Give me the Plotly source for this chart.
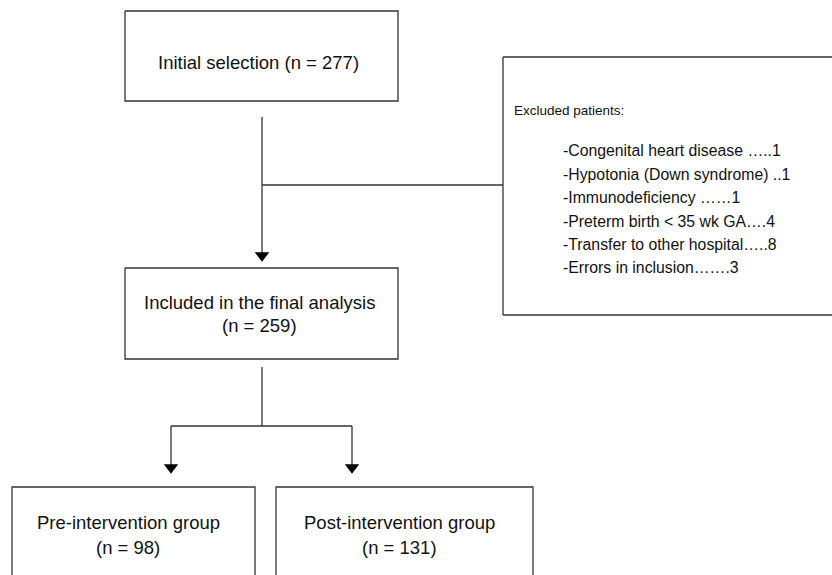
import plotly.graph_objects as go

# ---- data ----
initial_label = "Initial selection"
initial_n = 277
included_label = "Included in the final analysis"
included_n = 259
group_labels = ["Pre-intervention group", "Post-intervention group"]
group_n = [98, 131]
excluded_title = "Excluded patients:"
excluded_reasons = [
    "-Congenital heart disease \u2026..1",
    "-Hypotonia (Down syndrome) ..1",
    "-Immunodeficiency \u2026\u20261",
    "-Preterm birth < 35 wk GA\u2026.4",
    "-Transfer to other hospital\u2026..8",
    "-Errors in inclusion\u2026\u2026.3",
]

LINE = "#333333"
FONT = "Liberation Sans, Arial, Helvetica, sans-serif"

fig = go.Figure()

def seg(xs, ys):
    fig.add_trace(go.Scatter(x=xs, y=ys, mode="lines",
                             line=dict(color=LINE, width=1.3),
                             hoverinfo="skip", showlegend=False))

def rect(x0, y0, x1, y1):
    seg([x0, x1, x1, x0, x0], [y0, y0, y1, y1, y0])

# boxes
rect(125, 11, 398, 101)
# excluded box, runs off the right edge (drawn as separate open segments)
seg([503, 840], [57, 57])
seg([503, 840], [315, 315])
seg([503, 503], [57, 315])
rect(125, 268, 398, 359)
seg([12, 12, 255, 255], [580, 487, 487, 580])
seg([276, 276, 533, 533], [580, 487, 487, 580])

# connectors
seg([262, 262], [117, 253])
seg([262, 503], [185, 185])
seg([262, 262], [367, 426])
seg([171, 352], [426, 426])
seg([171, 171], [426, 466])
seg([352, 352], [426, 466])

# arrowheads
fig.add_trace(go.Scatter(x=[262, 171, 352], y=[255.5, 467.5, 467.5], mode="markers",
                         marker=dict(symbol="triangle-down", size=12.5, color="#000000",
                                     line=dict(width=0)),
                         hoverinfo="skip", showlegend=False))

# texts
def txt(x, y, s, size=18.5, anchor="center"):
    fig.add_annotation(x=x, y=y, text=s, showarrow=False, xref="x", yref="y",
                       xanchor=anchor, yanchor="middle",
                       font=dict(family=FONT, size=size, color="#111111"))

txt(258, 62, f"{initial_label} (n = {initial_n})")
txt(259, 302, included_label)
txt(259, 325, f"(n = {included_n})")
txt(128, 522, group_labels[0])
txt(399, 522, group_labels[1])
txt(128, 547, f"(n = {group_n[0]})")
txt(399, 547, f"(n = {group_n[1]})")

txt(512, 110, excluded_title, size=13.5, anchor="left")
ys = [150, 174, 197, 221, 244, 267]
for y, r in zip(ys, excluded_reasons):
    txt(561, y, r, size=15.8, anchor="left")

fig.update_layout(
    width=832, height=575,
    margin=dict(l=0, r=0, t=0, b=0),
    paper_bgcolor="white", plot_bgcolor="white",
    xaxis=dict(range=[0, 832], visible=False, fixedrange=True),
    yaxis=dict(range=[575, 0], visible=False, fixedrange=True),
    showlegend=False,
)

# remove the default page margin so the figure fills the window exactly
fig.write_html("out.html",
               config={"displayModeBar": False, "staticPlot": True},
               post_script="document.body.style.margin='0';"
                           "document.body.style.padding='0';"
                           "document.documentElement.style.overflow='hidden';")
